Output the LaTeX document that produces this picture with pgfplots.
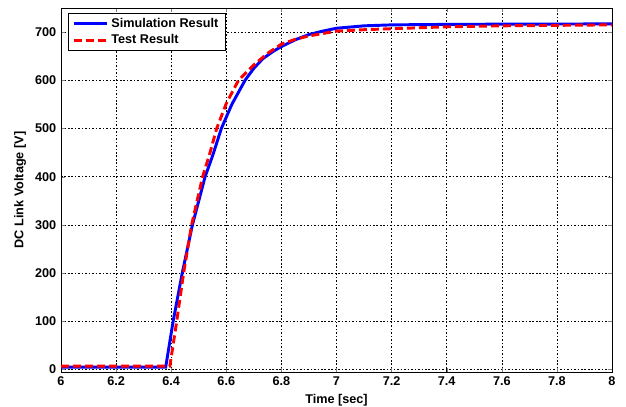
\documentclass[border=0pt]{standalone}
\usepackage{pgfplots}
\pgfplotsset{compat=1.18}
\usepackage{fontspec}
\setmainfont{Liberation Sans}
\begin{document}
\begin{tikzpicture}[x=0.75pt,y=0.75pt]
\begin{axis}[
    name=main,
    scale only axis,
    width=413.25pt, height=273pt,
    xmin=6, xmax=8, ymin=-5, ymax=750,
    xtick={6,6.2,...,8.01},
    ytick={0,100,...,700},
    font=\bfseries\fontsize{9.5}{11}\selectfont,
    /pgf/number format/assume math mode=true,
    xticklabel style={/pgf/number format/fixed},
    xlabel={Time [sec]},
    ylabel={DC Link Voltage [V]},
    xlabel style={at={(axis description cs:0.5,-0.077)}, anchor=center},
    ylabel style={at={(axis description cs:-0.0744,0.5)}, anchor=center},
    tick align=inside,
    major tick length=3pt,
    axis line style={black, line width=0.6pt},
    grid=major,
    major grid style={black, line width=0.4pt, dash pattern=on 1.2pt off 1.4pt},
    legend cell align=left,
    legend style={at={(0.0127,0.986)}, anchor=north west, draw=black,
      line width=0.6pt, inner xsep=3pt, inner ysep=1.5pt, row sep=0pt,
      font=\bfseries\fontsize{9.5}{12.5}\selectfont},
    legend image code/.code={\draw[#1] (0pt,0pt) -- (25pt,0pt);},
  ]
  \addplot[blue, line width=2.2pt] coordinates {
    (6.00,5) (6.38,5) (6.407,100) (6.44,200) (6.477,300) (6.523,400)
    (6.55,443) (6.582,500) (6.62,550) (6.668,600) (6.70,625) (6.733,645)
    (6.77,660) (6.80,670) (6.85,684) (6.90,695) (6.95,702) (7.00,708)
    (7.10,713) (7.20,715) (7.40,716) (7.60,716.5) (8.00,717)
  };
  \addlegendentry{Simulation Result}
  \addplot[red, line width=2.2pt, dash pattern=on 6pt off 3pt] coordinates {
    (6.00,7) (6.395,7) (6.42,100) (6.445,200) (6.474,300) (6.514,400)
    (6.54,448) (6.565,500) (6.60,552) (6.644,600) (6.70,632) (6.75,656)
    (6.80,675) (6.85,685) (6.90,692) (7.00,702) (7.10,705) (7.20,707)
    (7.40,711) (7.60,713) (8.00,715)
  };
  \addlegendentry{Test Result}
\end{axis}
\pgfresetboundingbox
\path[use as bounding box] (main.south west) ++(-61,-34) rectangle ([xshift=10.5pt,yshift=6pt]main.north east);
\end{tikzpicture}
\end{document}
